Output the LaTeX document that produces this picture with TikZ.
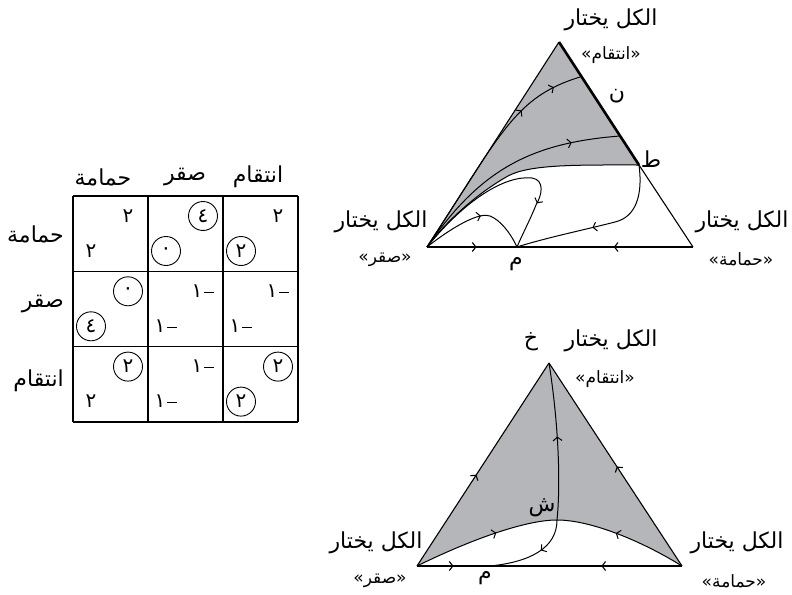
\documentclass[tikz,border=0pt]{standalone}
\usepackage{fontspec}
\usetikzlibrary{arrows.meta,decorations.markings}
\TeXXeTstate=1
\newfontfamily\arabicfont[Script=Arabic]{DejaVu Sans}
\newfontfamily\quotefont{DejaVu Sans}
\definecolor{basingray}{RGB}{181,182,186}
\newcommand\quoted[1]{\hbox{\quotefont«}\hbox{\beginR #1\endR}\hbox{\quotefont»}}
\newcommand\minusone{\hbox{١}\kern2pt\rule[4.5pt]{10pt}{1.1pt}}
\tikzset{
  flowmark/.style={postaction={decorate,decoration={markings,
      mark=at position #1 with {\arrow{Straight Barb[length=3.5pt,width=9pt]}}}}},
  side/.style={line width=1.1pt},
  traj/.style={line width=1pt},
  lbl/.style={font=\arabicfont\fontsize{22}{26}\selectfont, inner sep=0pt},
  sublbl/.style={font=\arabicfont\fontsize{17}{20}\selectfont, inner sep=0pt},
  ptlbl/.style={font=\arabicfont\fontsize{22}{26}\selectfont, inner sep=0pt},
  num/.style={font=\arabicfont\fontsize{20}{24}\selectfont, inner sep=0pt},
  bare/.style={num},
  circ/.style={num, draw, circle, minimum size=29pt, line width=0.9pt}
}
\begin{document}
\begin{tikzpicture}[x=1pt, y=-1pt]
  \useasboundingbox (0,0) rectangle (792,594);
  % payoff matrix
  \foreach \i in {0,...,3} {
    \draw[line width=1.2pt] (73+75*\i,196) -- (73+75*\i,422);
    \draw[line width=1.2pt] (73,196+75.3*\i) -- (298,196+75.3*\i);
  }
  \node[lbl] (colD) at (103,177) {\beginR حمامة\endR};
  \node[lbl] (colH) at (185,177) {\beginR صقر\endR};
  \node[lbl] (colR) at (258,177) {\beginR انتقام\endR};
  \node[lbl, anchor=east] (rowD) at (64,234) {\beginR حمامة\endR};
  \node[lbl, anchor=east] (rowH) at (64,304) {\beginR صقر\endR};
  \node[lbl, anchor=east] (rowR) at (64,381) {\beginR انتقام\endR};
  \foreach \r/\c/\txt/\sty in {1/1/٢/bare, 1/2/٤/circ, 1/3/٢/bare,
      2/1/٠/circ, 2/2/\minusone/bare, 2/3/\minusone/bare,
      3/1/٢/circ, 3/2/\minusone/bare, 3/3/٢/circ}
    \node[\sty] (t\r\c) at ({73+75*(\c-1)+55},{196+75.3*(\r-1)+20}) {\txt};
  \foreach \r/\c/\txt/\sty in {1/1/٢/bare, 1/2/٠/circ, 1/3/٢/circ,
      2/1/٤/circ, 2/2/\minusone/bare, 2/3/\minusone/bare,
      3/1/٢/bare, 3/2/\minusone/bare, 3/3/٢/circ}
    \node[\sty] (b\r\c) at ({73+75*(\c-1)+18},{196+75.3*(\r-1)+55}) {\txt};

  % upper simplex
  \coordinate (rT) at (559,42);
  \coordinate (hT) at (427,247);
  \coordinate (dT) at (693,247);
  \coordinate (mT) at (517,247);
  \coordinate (tT) at (639,165);
  \coordinate (nT) at (580,77);
  \coordinate (pT) at (620,136);
  \fill[basingray] (rT) -- (tT) .. controls (580,165) and (530,164) .. (508,176)
    .. controls (490,186) and (455,210) .. (hT) -- cycle;
  \draw[side] (hT) -- (rT);
  \draw[line width=2.6pt] (rT) -- (tT);
  \draw[side] (tT) -- (dT);
  \draw[side, flowmark=0.55] (hT) -- (mT);
  \draw[side, flowmark=0.45] (dT) -- (mT);
  \draw[traj] (tT) .. controls (580,165) and (530,164) .. (508,176)
    .. controls (490,186) and (455,210) .. (hT);
  \draw[traj, flowmark=0.71, flowmark=0.88] (hT) .. controls (502,132) and (515,97) .. (nT);
  \draw[traj, flowmark=0.79] (hT) .. controls (480,170) and (530,143) .. (pT);
  \draw[traj, flowmark=0.77] (hT) .. controls (465,200) and (505,175) .. (532,178)
    .. controls (545,180) and (542,195) .. (536,205)
    .. controls (530,220) and (522,235) .. (mT);
  \draw[traj, flowmark=0.55] (hT) .. controls (455,225) and (480,212) .. (490,216)
    .. controls (500,220) and (510,232) .. (mT);
  \draw[traj, flowmark=0.54] (tT) .. controls (643,195) and (636,217) .. (615,222)
    .. controls (588,229) and (545,238) .. (mT);
  \node[lbl] (rTa) at (611,20) {\beginR الكل يختار\endR};
  \node[sublbl] (rTb) at (611,55) {\quoted{انتقام}};
  \node[ptlbl] (nlab) at (617,96) {ن};
  \node[ptlbl] (tlab) at (651,159) {ط};
  \node[lbl] (hTa) at (381,222) {\beginR الكل يختار\endR};
  \node[sublbl] (hTb) at (385,260) {\quoted{صقر}};
  \node[lbl] (dTa) at (742,222) {\beginR الكل يختار\endR};
  \node[sublbl] (dTb) at (741,259) {\quoted{حمامة}};
  \node[ptlbl] (mTlab) at (516,264) {م};

  % lower simplex
  \coordinate (rB) at (549,363);
  \coordinate (hB) at (417,566);
  \coordinate (dB) at (682,566);
  \coordinate (mB) at (490,566);
  \coordinate (sB) at (557,520);
  \fill[basingray] (rB) -- (dB) .. controls (640,540) and (590,520) .. (sB)
    .. controls (525,520) and (470,540) .. (hB) -- cycle;
  \draw[side, flowmark=0.45] (hB) -- (rB);
  \draw[side, flowmark=0.49] (dB) -- (rB);
  \draw[side, flowmark=0.5] (hB) -- (mB);
  \draw[side, flowmark=0.42] (dB) -- (mB);
  \draw[traj, flowmark=0.58] (hB) .. controls (470,540) and (525,520) .. (sB);
  \draw[traj, flowmark=0.55] (dB) .. controls (640,540) and (590,520) .. (sB);
  \draw[traj, flowmark=0.53] (sB) .. controls (561,480) and (558,420) .. (rB);
  \draw[traj, flowmark=0.4] (sB) .. controls (557,548) and (530,562) .. (mB);
  \node[lbl] (rBa) at (611,341) {\beginR الكل يختار\endR};
  \node[ptlbl] (xlab) at (531,342) {خ};
  \node[sublbl] (rBb) at (605,379) {\quoted{انتقام}};
  \node[ptlbl] (slab) at (542,508) {ش};
  \node[lbl] (hBa) at (376,543) {\beginR الكل يختار\endR};
  \node[sublbl] (hBb) at (380,581) {\quoted{صقر}};
  \node[lbl] (dBa) at (737,543) {\beginR الكل يختار\endR};
  \node[sublbl] (dBb) at (734,581) {\quoted{حمامة}};
  \node[ptlbl] (mBlab) at (485,578) {م};
\end{tikzpicture}
\end{document}
